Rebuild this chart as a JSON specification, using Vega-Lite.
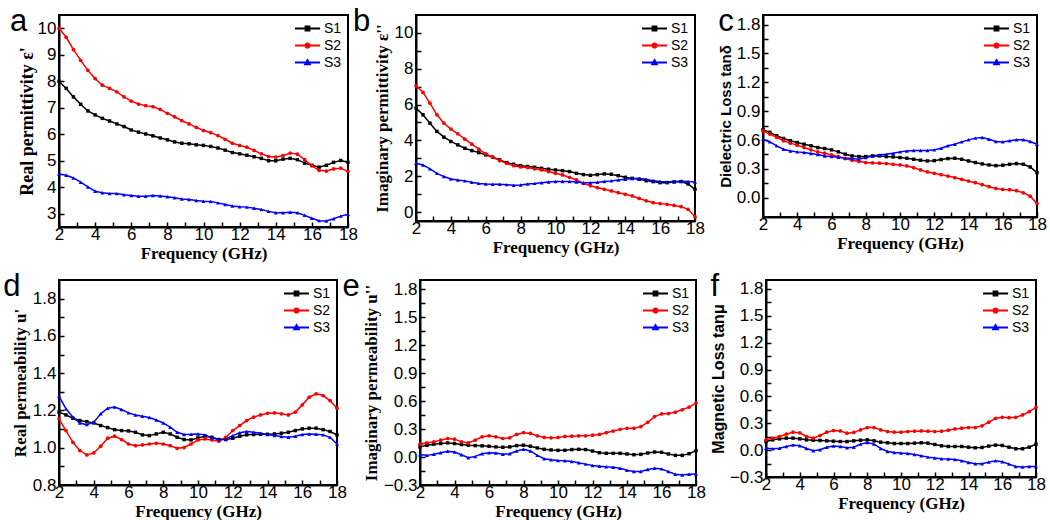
{
"$schema": "https://vega.github.io/schema/vega-lite/v6.json",
"background": "white",
"padding": {"left": 2, "top": 5, "right": 2, "bottom": 2},
"data": {"values": [
{"p":"a","s":"S1","f":2,"v":8.0},{"p":"a","s":"S1","f":2.4,"v":7.73},{"p":"a","s":"S1","f":2.8,"v":7.41},{"p":"a","s":"S1","f":3.2,"v":7.13},{"p":"a","s":"S1","f":3.6,"v":6.88},{"p":"a","s":"S1","f":4,"v":6.73},{"p":"a","s":"S1","f":4.4,"v":6.6},{"p":"a","s":"S1","f":4.8,"v":6.5},{"p":"a","s":"S1","f":5.2,"v":6.39},{"p":"a","s":"S1","f":5.6,"v":6.29},{"p":"a","s":"S1","f":6,"v":6.16},{"p":"a","s":"S1","f":6.4,"v":6.08},{"p":"a","s":"S1","f":6.8,"v":6.01},{"p":"a","s":"S1","f":7.2,"v":5.94},{"p":"a","s":"S1","f":7.6,"v":5.86},{"p":"a","s":"S1","f":8,"v":5.79},{"p":"a","s":"S1","f":8.4,"v":5.71},{"p":"a","s":"S1","f":8.8,"v":5.66},{"p":"a","s":"S1","f":9.2,"v":5.64},{"p":"a","s":"S1","f":9.6,"v":5.6},{"p":"a","s":"S1","f":10,"v":5.58},{"p":"a","s":"S1","f":10.4,"v":5.54},{"p":"a","s":"S1","f":10.8,"v":5.48},{"p":"a","s":"S1","f":11.2,"v":5.4},{"p":"a","s":"S1","f":11.6,"v":5.31},{"p":"a","s":"S1","f":12,"v":5.26},{"p":"a","s":"S1","f":12.4,"v":5.21},{"p":"a","s":"S1","f":12.8,"v":5.15},{"p":"a","s":"S1","f":13.2,"v":5.09},{"p":"a","s":"S1","f":13.6,"v":5.0},{"p":"a","s":"S1","f":14,"v":5.0},{"p":"a","s":"S1","f":14.4,"v":5.06},{"p":"a","s":"S1","f":14.8,"v":5.09},{"p":"a","s":"S1","f":15.2,"v":5.04},{"p":"a","s":"S1","f":15.6,"v":4.91},{"p":"a","s":"S1","f":16,"v":4.83},{"p":"a","s":"S1","f":16.4,"v":4.76},{"p":"a","s":"S1","f":16.8,"v":4.83},{"p":"a","s":"S1","f":17.2,"v":4.94},{"p":"a","s":"S1","f":17.6,"v":5.01},{"p":"a","s":"S1","f":18,"v":4.94},
{"p":"a","s":"S2","f":2,"v":10.0},{"p":"a","s":"S2","f":2.4,"v":9.66},{"p":"a","s":"S2","f":2.8,"v":9.19},{"p":"a","s":"S2","f":3.2,"v":8.79},{"p":"a","s":"S2","f":3.6,"v":8.41},{"p":"a","s":"S2","f":4,"v":8.1},{"p":"a","s":"S2","f":4.4,"v":7.85},{"p":"a","s":"S2","f":4.8,"v":7.73},{"p":"a","s":"S2","f":5.2,"v":7.6},{"p":"a","s":"S2","f":5.6,"v":7.41},{"p":"a","s":"S2","f":6,"v":7.25},{"p":"a","s":"S2","f":6.4,"v":7.14},{"p":"a","s":"S2","f":6.8,"v":7.08},{"p":"a","s":"S2","f":7.2,"v":7.04},{"p":"a","s":"S2","f":7.6,"v":6.94},{"p":"a","s":"S2","f":8,"v":6.79},{"p":"a","s":"S2","f":8.4,"v":6.66},{"p":"a","s":"S2","f":8.8,"v":6.51},{"p":"a","s":"S2","f":9.2,"v":6.39},{"p":"a","s":"S2","f":9.6,"v":6.26},{"p":"a","s":"S2","f":10,"v":6.14},{"p":"a","s":"S2","f":10.4,"v":6.06},{"p":"a","s":"S2","f":10.8,"v":5.95},{"p":"a","s":"S2","f":11.2,"v":5.81},{"p":"a","s":"S2","f":11.6,"v":5.66},{"p":"a","s":"S2","f":12,"v":5.58},{"p":"a","s":"S2","f":12.4,"v":5.51},{"p":"a","s":"S2","f":12.8,"v":5.39},{"p":"a","s":"S2","f":13.2,"v":5.26},{"p":"a","s":"S2","f":13.6,"v":5.16},{"p":"a","s":"S2","f":14,"v":5.14},{"p":"a","s":"S2","f":14.4,"v":5.19},{"p":"a","s":"S2","f":14.8,"v":5.29},{"p":"a","s":"S2","f":15.2,"v":5.25},{"p":"a","s":"S2","f":15.6,"v":5.04},{"p":"a","s":"S2","f":16,"v":4.81},{"p":"a","s":"S2","f":16.4,"v":4.64},{"p":"a","s":"S2","f":16.8,"v":4.61},{"p":"a","s":"S2","f":17.2,"v":4.69},{"p":"a","s":"S2","f":17.6,"v":4.72},{"p":"a","s":"S2","f":18,"v":4.6},
{"p":"a","s":"S3","f":2,"v":4.5},{"p":"a","s":"S3","f":2.4,"v":4.45},{"p":"a","s":"S3","f":2.8,"v":4.35},{"p":"a","s":"S3","f":3.2,"v":4.19},{"p":"a","s":"S3","f":3.6,"v":4.01},{"p":"a","s":"S3","f":4,"v":3.85},{"p":"a","s":"S3","f":4.4,"v":3.79},{"p":"a","s":"S3","f":4.8,"v":3.76},{"p":"a","s":"S3","f":5.2,"v":3.76},{"p":"a","s":"S3","f":5.6,"v":3.72},{"p":"a","s":"S3","f":6,"v":3.69},{"p":"a","s":"S3","f":6.4,"v":3.66},{"p":"a","s":"S3","f":6.8,"v":3.66},{"p":"a","s":"S3","f":7.2,"v":3.69},{"p":"a","s":"S3","f":7.6,"v":3.67},{"p":"a","s":"S3","f":8,"v":3.64},{"p":"a","s":"S3","f":8.4,"v":3.6},{"p":"a","s":"S3","f":8.8,"v":3.56},{"p":"a","s":"S3","f":9.2,"v":3.54},{"p":"a","s":"S3","f":9.6,"v":3.5},{"p":"a","s":"S3","f":10,"v":3.47},{"p":"a","s":"S3","f":10.4,"v":3.46},{"p":"a","s":"S3","f":10.8,"v":3.41},{"p":"a","s":"S3","f":11.2,"v":3.35},{"p":"a","s":"S3","f":11.6,"v":3.29},{"p":"a","s":"S3","f":12,"v":3.26},{"p":"a","s":"S3","f":12.4,"v":3.25},{"p":"a","s":"S3","f":12.8,"v":3.21},{"p":"a","s":"S3","f":13.2,"v":3.16},{"p":"a","s":"S3","f":13.6,"v":3.09},{"p":"a","s":"S3","f":14,"v":3.04},{"p":"a","s":"S3","f":14.4,"v":3.04},{"p":"a","s":"S3","f":14.8,"v":3.06},{"p":"a","s":"S3","f":15.2,"v":3.04},{"p":"a","s":"S3","f":15.6,"v":2.94},{"p":"a","s":"S3","f":16,"v":2.83},{"p":"a","s":"S3","f":16.4,"v":2.74},{"p":"a","s":"S3","f":16.8,"v":2.73},{"p":"a","s":"S3","f":17.2,"v":2.81},{"p":"a","s":"S3","f":17.6,"v":2.91},{"p":"a","s":"S3","f":18,"v":2.98},
{"p":"b","s":"S1","f":2,"v":5.8},{"p":"b","s":"S1","f":2.4,"v":5.43},{"p":"b","s":"S1","f":2.8,"v":4.96},{"p":"b","s":"S1","f":3.2,"v":4.5},{"p":"b","s":"S1","f":3.6,"v":4.18},{"p":"b","s":"S1","f":4,"v":3.94},{"p":"b","s":"S1","f":4.4,"v":3.75},{"p":"b","s":"S1","f":4.8,"v":3.56},{"p":"b","s":"S1","f":5.2,"v":3.43},{"p":"b","s":"S1","f":5.6,"v":3.32},{"p":"b","s":"S1","f":6,"v":3.19},{"p":"b","s":"S1","f":6.4,"v":3.06},{"p":"b","s":"S1","f":6.8,"v":2.91},{"p":"b","s":"S1","f":7.2,"v":2.76},{"p":"b","s":"S1","f":7.6,"v":2.67},{"p":"b","s":"S1","f":8,"v":2.59},{"p":"b","s":"S1","f":8.4,"v":2.54},{"p":"b","s":"S1","f":8.8,"v":2.5},{"p":"b","s":"S1","f":9.2,"v":2.44},{"p":"b","s":"S1","f":9.6,"v":2.39},{"p":"b","s":"S1","f":10,"v":2.35},{"p":"b","s":"S1","f":10.4,"v":2.31},{"p":"b","s":"S1","f":10.8,"v":2.26},{"p":"b","s":"S1","f":11.2,"v":2.16},{"p":"b","s":"S1","f":11.6,"v":2.09},{"p":"b","s":"S1","f":12,"v":2.05},{"p":"b","s":"S1","f":12.4,"v":2.09},{"p":"b","s":"S1","f":12.8,"v":2.13},{"p":"b","s":"S1","f":13.2,"v":2.11},{"p":"b","s":"S1","f":13.6,"v":2.03},{"p":"b","s":"S1","f":14,"v":1.94},{"p":"b","s":"S1","f":14.4,"v":1.88},{"p":"b","s":"S1","f":14.8,"v":1.83},{"p":"b","s":"S1","f":15.2,"v":1.75},{"p":"b","s":"S1","f":15.6,"v":1.7},{"p":"b","s":"S1","f":16,"v":1.64},{"p":"b","s":"S1","f":16.4,"v":1.64},{"p":"b","s":"S1","f":16.8,"v":1.68},{"p":"b","s":"S1","f":17.2,"v":1.7},{"p":"b","s":"S1","f":17.6,"v":1.57},{"p":"b","s":"S1","f":18,"v":1.27},
{"p":"b","s":"S2","f":2,"v":7.05},{"p":"b","s":"S2","f":2.4,"v":6.68},{"p":"b","s":"S2","f":2.8,"v":6.08},{"p":"b","s":"S2","f":3.2,"v":5.43},{"p":"b","s":"S2","f":3.6,"v":4.96},{"p":"b","s":"S2","f":4,"v":4.63},{"p":"b","s":"S2","f":4.4,"v":4.37},{"p":"b","s":"S2","f":4.8,"v":4.07},{"p":"b","s":"S2","f":5.2,"v":3.79},{"p":"b","s":"S2","f":5.6,"v":3.51},{"p":"b","s":"S2","f":6,"v":3.25},{"p":"b","s":"S2","f":6.4,"v":3.06},{"p":"b","s":"S2","f":6.8,"v":2.87},{"p":"b","s":"S2","f":7.2,"v":2.72},{"p":"b","s":"S2","f":7.6,"v":2.59},{"p":"b","s":"S2","f":8,"v":2.52},{"p":"b","s":"S2","f":8.4,"v":2.48},{"p":"b","s":"S2","f":8.8,"v":2.41},{"p":"b","s":"S2","f":9.2,"v":2.35},{"p":"b","s":"S2","f":9.6,"v":2.26},{"p":"b","s":"S2","f":10,"v":2.16},{"p":"b","s":"S2","f":10.4,"v":2.07},{"p":"b","s":"S2","f":10.8,"v":1.94},{"p":"b","s":"S2","f":11.2,"v":1.79},{"p":"b","s":"S2","f":11.6,"v":1.6},{"p":"b","s":"S2","f":12,"v":1.47},{"p":"b","s":"S2","f":12.4,"v":1.36},{"p":"b","s":"S2","f":12.8,"v":1.27},{"p":"b","s":"S2","f":13.2,"v":1.18},{"p":"b","s":"S2","f":13.6,"v":1.08},{"p":"b","s":"S2","f":14,"v":0.99},{"p":"b","s":"S2","f":14.4,"v":0.9},{"p":"b","s":"S2","f":14.8,"v":0.76},{"p":"b","s":"S2","f":15.2,"v":0.63},{"p":"b","s":"S2","f":15.6,"v":0.52},{"p":"b","s":"S2","f":16,"v":0.47},{"p":"b","s":"S2","f":16.4,"v":0.43},{"p":"b","s":"S2","f":16.8,"v":0.37},{"p":"b","s":"S2","f":17.2,"v":0.3},{"p":"b","s":"S2","f":17.6,"v":0.15},{"p":"b","s":"S2","f":18,"v":-0.26},
{"p":"b","s":"S3","f":2,"v":2.72},{"p":"b","s":"S3","f":2.4,"v":2.63},{"p":"b","s":"S3","f":2.8,"v":2.41},{"p":"b","s":"S3","f":3.2,"v":2.16},{"p":"b","s":"S3","f":3.6,"v":1.98},{"p":"b","s":"S3","f":4,"v":1.85},{"p":"b","s":"S3","f":4.4,"v":1.79},{"p":"b","s":"S3","f":4.8,"v":1.74},{"p":"b","s":"S3","f":5.2,"v":1.66},{"p":"b","s":"S3","f":5.6,"v":1.6},{"p":"b","s":"S3","f":6,"v":1.57},{"p":"b","s":"S3","f":6.4,"v":1.55},{"p":"b","s":"S3","f":6.8,"v":1.55},{"p":"b","s":"S3","f":7.2,"v":1.53},{"p":"b","s":"S3","f":7.6,"v":1.49},{"p":"b","s":"S3","f":8,"v":1.51},{"p":"b","s":"S3","f":8.4,"v":1.57},{"p":"b","s":"S3","f":8.8,"v":1.6},{"p":"b","s":"S3","f":9.2,"v":1.64},{"p":"b","s":"S3","f":9.6,"v":1.68},{"p":"b","s":"S3","f":10,"v":1.7},{"p":"b","s":"S3","f":10.4,"v":1.7},{"p":"b","s":"S3","f":10.8,"v":1.7},{"p":"b","s":"S3","f":11.2,"v":1.68},{"p":"b","s":"S3","f":11.6,"v":1.64},{"p":"b","s":"S3","f":12,"v":1.64},{"p":"b","s":"S3","f":12.4,"v":1.66},{"p":"b","s":"S3","f":12.8,"v":1.7},{"p":"b","s":"S3","f":13.2,"v":1.74},{"p":"b","s":"S3","f":13.6,"v":1.79},{"p":"b","s":"S3","f":14,"v":1.83},{"p":"b","s":"S3","f":14.4,"v":1.87},{"p":"b","s":"S3","f":14.8,"v":1.87},{"p":"b","s":"S3","f":15.2,"v":1.83},{"p":"b","s":"S3","f":15.6,"v":1.75},{"p":"b","s":"S3","f":16,"v":1.7},{"p":"b","s":"S3","f":16.4,"v":1.68},{"p":"b","s":"S3","f":16.8,"v":1.7},{"p":"b","s":"S3","f":17.2,"v":1.72},{"p":"b","s":"S3","f":17.6,"v":1.7},{"p":"b","s":"S3","f":18,"v":1.68},
{"p":"c","s":"S1","f":2,"v":0.707},{"p":"c","s":"S1","f":2.4,"v":0.68},{"p":"c","s":"S1","f":2.8,"v":0.644},{"p":"c","s":"S1","f":3.2,"v":0.616},{"p":"c","s":"S1","f":3.6,"v":0.592},{"p":"c","s":"S1","f":4,"v":0.574},{"p":"c","s":"S1","f":4.4,"v":0.557},{"p":"c","s":"S1","f":4.8,"v":0.54},{"p":"c","s":"S1","f":5.2,"v":0.522},{"p":"c","s":"S1","f":5.6,"v":0.512},{"p":"c","s":"S1","f":6,"v":0.498},{"p":"c","s":"S1","f":6.4,"v":0.477},{"p":"c","s":"S1","f":6.8,"v":0.453},{"p":"c","s":"S1","f":7.2,"v":0.435},{"p":"c","s":"S1","f":7.6,"v":0.428},{"p":"c","s":"S1","f":8,"v":0.428},{"p":"c","s":"S1","f":8.4,"v":0.435},{"p":"c","s":"S1","f":8.8,"v":0.435},{"p":"c","s":"S1","f":9.2,"v":0.428},{"p":"c","s":"S1","f":9.6,"v":0.425},{"p":"c","s":"S1","f":10,"v":0.418},{"p":"c","s":"S1","f":10.4,"v":0.411},{"p":"c","s":"S1","f":10.8,"v":0.4},{"p":"c","s":"S1","f":11.2,"v":0.39},{"p":"c","s":"S1","f":11.6,"v":0.383},{"p":"c","s":"S1","f":12,"v":0.386},{"p":"c","s":"S1","f":12.4,"v":0.397},{"p":"c","s":"S1","f":12.8,"v":0.407},{"p":"c","s":"S1","f":13.2,"v":0.411},{"p":"c","s":"S1","f":13.6,"v":0.4},{"p":"c","s":"S1","f":14,"v":0.383},{"p":"c","s":"S1","f":14.4,"v":0.366},{"p":"c","s":"S1","f":14.8,"v":0.352},{"p":"c","s":"S1","f":15.2,"v":0.341},{"p":"c","s":"S1","f":15.6,"v":0.334},{"p":"c","s":"S1","f":16,"v":0.338},{"p":"c","s":"S1","f":16.4,"v":0.348},{"p":"c","s":"S1","f":16.8,"v":0.355},{"p":"c","s":"S1","f":17.2,"v":0.348},{"p":"c","s":"S1","f":17.6,"v":0.32},{"p":"c","s":"S1","f":18,"v":0.261},
{"p":"c","s":"S2","f":2,"v":0.696},{"p":"c","s":"S2","f":2.4,"v":0.662},{"p":"c","s":"S2","f":2.8,"v":0.627},{"p":"c","s":"S2","f":3.2,"v":0.592},{"p":"c","s":"S2","f":3.6,"v":0.568},{"p":"c","s":"S2","f":4,"v":0.547},{"p":"c","s":"S2","f":4.4,"v":0.522},{"p":"c","s":"S2","f":4.8,"v":0.498},{"p":"c","s":"S2","f":5.2,"v":0.477},{"p":"c","s":"S2","f":5.6,"v":0.463},{"p":"c","s":"S2","f":6,"v":0.446},{"p":"c","s":"S2","f":6.4,"v":0.428},{"p":"c","s":"S2","f":6.8,"v":0.407},{"p":"c","s":"S2","f":7.2,"v":0.39},{"p":"c","s":"S2","f":7.6,"v":0.376},{"p":"c","s":"S2","f":8,"v":0.366},{"p":"c","s":"S2","f":8.4,"v":0.362},{"p":"c","s":"S2","f":8.8,"v":0.359},{"p":"c","s":"S2","f":9.2,"v":0.355},{"p":"c","s":"S2","f":9.6,"v":0.348},{"p":"c","s":"S2","f":10,"v":0.341},{"p":"c","s":"S2","f":10.4,"v":0.331},{"p":"c","s":"S2","f":10.8,"v":0.313},{"p":"c","s":"S2","f":11.2,"v":0.289},{"p":"c","s":"S2","f":11.6,"v":0.268},{"p":"c","s":"S2","f":12,"v":0.254},{"p":"c","s":"S2","f":12.4,"v":0.24},{"p":"c","s":"S2","f":12.8,"v":0.226},{"p":"c","s":"S2","f":13.2,"v":0.209},{"p":"c","s":"S2","f":13.6,"v":0.192},{"p":"c","s":"S2","f":14,"v":0.174},{"p":"c","s":"S2","f":14.4,"v":0.157},{"p":"c","s":"S2","f":14.8,"v":0.136},{"p":"c","s":"S2","f":15.2,"v":0.115},{"p":"c","s":"S2","f":15.6,"v":0.097},{"p":"c","s":"S2","f":16,"v":0.087},{"p":"c","s":"S2","f":16.4,"v":0.084},{"p":"c","s":"S2","f":16.8,"v":0.073},{"p":"c","s":"S2","f":17.2,"v":0.052},{"p":"c","s":"S2","f":17.6,"v":0.017},{"p":"c","s":"S2","f":18,"v":-0.059},
{"p":"c","s":"S3","f":2,"v":0.609},{"p":"c","s":"S3","f":2.4,"v":0.581},{"p":"c","s":"S3","f":2.8,"v":0.54},{"p":"c","s":"S3","f":3.2,"v":0.505},{"p":"c","s":"S3","f":3.6,"v":0.487},{"p":"c","s":"S3","f":4,"v":0.477},{"p":"c","s":"S3","f":4.4,"v":0.47},{"p":"c","s":"S3","f":4.8,"v":0.46},{"p":"c","s":"S3","f":5.2,"v":0.449},{"p":"c","s":"S3","f":5.6,"v":0.435},{"p":"c","s":"S3","f":6,"v":0.428},{"p":"c","s":"S3","f":6.4,"v":0.421},{"p":"c","s":"S3","f":6.8,"v":0.414},{"p":"c","s":"S3","f":7.2,"v":0.407},{"p":"c","s":"S3","f":7.6,"v":0.4},{"p":"c","s":"S3","f":8,"v":0.418},{"p":"c","s":"S3","f":8.4,"v":0.435},{"p":"c","s":"S3","f":8.8,"v":0.446},{"p":"c","s":"S3","f":9.2,"v":0.453},{"p":"c","s":"S3","f":9.6,"v":0.463},{"p":"c","s":"S3","f":10,"v":0.477},{"p":"c","s":"S3","f":10.4,"v":0.487},{"p":"c","s":"S3","f":10.8,"v":0.491},{"p":"c","s":"S3","f":11.2,"v":0.491},{"p":"c","s":"S3","f":11.6,"v":0.491},{"p":"c","s":"S3","f":12,"v":0.498},{"p":"c","s":"S3","f":12.4,"v":0.515},{"p":"c","s":"S3","f":12.8,"v":0.54},{"p":"c","s":"S3","f":13.2,"v":0.557},{"p":"c","s":"S3","f":13.6,"v":0.581},{"p":"c","s":"S3","f":14,"v":0.602},{"p":"c","s":"S3","f":14.4,"v":0.62},{"p":"c","s":"S3","f":14.8,"v":0.627},{"p":"c","s":"S3","f":15.2,"v":0.609},{"p":"c","s":"S3","f":15.6,"v":0.585},{"p":"c","s":"S3","f":16,"v":0.581},{"p":"c","s":"S3","f":16.4,"v":0.592},{"p":"c","s":"S3","f":16.8,"v":0.602},{"p":"c","s":"S3","f":17.2,"v":0.602},{"p":"c","s":"S3","f":17.6,"v":0.585},{"p":"c","s":"S3","f":18,"v":0.557},
{"p":"d","s":"S1","f":2,"v":1.191},{"p":"d","s":"S1","f":2.4,"v":1.176},{"p":"d","s":"S1","f":2.8,"v":1.158},{"p":"d","s":"S1","f":3.2,"v":1.146},{"p":"d","s":"S1","f":3.6,"v":1.14},{"p":"d","s":"S1","f":4,"v":1.133},{"p":"d","s":"S1","f":4.4,"v":1.119},{"p":"d","s":"S1","f":4.8,"v":1.108},{"p":"d","s":"S1","f":5.2,"v":1.097},{"p":"d","s":"S1","f":5.6,"v":1.092},{"p":"d","s":"S1","f":6,"v":1.09},{"p":"d","s":"S1","f":6.4,"v":1.083},{"p":"d","s":"S1","f":6.8,"v":1.069},{"p":"d","s":"S1","f":7.2,"v":1.065},{"p":"d","s":"S1","f":7.6,"v":1.074},{"p":"d","s":"S1","f":8,"v":1.083},{"p":"d","s":"S1","f":8.4,"v":1.074},{"p":"d","s":"S1","f":8.8,"v":1.056},{"p":"d","s":"S1","f":9.2,"v":1.044},{"p":"d","s":"S1","f":9.6,"v":1.042},{"p":"d","s":"S1","f":10,"v":1.053},{"p":"d","s":"S1","f":10.4,"v":1.062},{"p":"d","s":"S1","f":10.8,"v":1.056},{"p":"d","s":"S1","f":11.2,"v":1.044},{"p":"d","s":"S1","f":11.6,"v":1.044},{"p":"d","s":"S1","f":12,"v":1.051},{"p":"d","s":"S1","f":12.4,"v":1.062},{"p":"d","s":"S1","f":12.8,"v":1.069},{"p":"d","s":"S1","f":13.2,"v":1.071},{"p":"d","s":"S1","f":13.6,"v":1.072},{"p":"d","s":"S1","f":14,"v":1.072},{"p":"d","s":"S1","f":14.4,"v":1.074},{"p":"d","s":"S1","f":14.8,"v":1.078},{"p":"d","s":"S1","f":15.2,"v":1.083},{"p":"d","s":"S1","f":15.6,"v":1.092},{"p":"d","s":"S1","f":16,"v":1.101},{"p":"d","s":"S1","f":16.4,"v":1.105},{"p":"d","s":"S1","f":16.8,"v":1.105},{"p":"d","s":"S1","f":17.2,"v":1.097},{"p":"d","s":"S1","f":17.6,"v":1.087},{"p":"d","s":"S1","f":18,"v":1.069},
{"p":"d","s":"S2","f":2,"v":1.155},{"p":"d","s":"S2","f":2.4,"v":1.092},{"p":"d","s":"S2","f":2.8,"v":1.029},{"p":"d","s":"S2","f":3.2,"v":0.985},{"p":"d","s":"S2","f":3.6,"v":0.961},{"p":"d","s":"S2","f":4,"v":0.972},{"p":"d","s":"S2","f":4.4,"v":1.008},{"p":"d","s":"S2","f":4.8,"v":1.051},{"p":"d","s":"S2","f":5.2,"v":1.062},{"p":"d","s":"S2","f":5.6,"v":1.044},{"p":"d","s":"S2","f":6,"v":1.02},{"p":"d","s":"S2","f":6.4,"v":1.011},{"p":"d","s":"S2","f":6.8,"v":1.015},{"p":"d","s":"S2","f":7.2,"v":1.02},{"p":"d","s":"S2","f":7.6,"v":1.024},{"p":"d","s":"S2","f":8,"v":1.02},{"p":"d","s":"S2","f":8.4,"v":1.011},{"p":"d","s":"S2","f":8.8,"v":0.997},{"p":"d","s":"S2","f":9.2,"v":1.001},{"p":"d","s":"S2","f":9.6,"v":1.02},{"p":"d","s":"S2","f":10,"v":1.042},{"p":"d","s":"S2","f":10.4,"v":1.047},{"p":"d","s":"S2","f":10.8,"v":1.042},{"p":"d","s":"S2","f":11.2,"v":1.035},{"p":"d","s":"S2","f":11.6,"v":1.056},{"p":"d","s":"S2","f":12,"v":1.092},{"p":"d","s":"S2","f":12.4,"v":1.119},{"p":"d","s":"S2","f":12.8,"v":1.146},{"p":"d","s":"S2","f":13.2,"v":1.164},{"p":"d","s":"S2","f":13.6,"v":1.176},{"p":"d","s":"S2","f":14,"v":1.185},{"p":"d","s":"S2","f":14.4,"v":1.187},{"p":"d","s":"S2","f":14.8,"v":1.182},{"p":"d","s":"S2","f":15.2,"v":1.176},{"p":"d","s":"S2","f":15.6,"v":1.191},{"p":"d","s":"S2","f":16,"v":1.23},{"p":"d","s":"S2","f":16.4,"v":1.271},{"p":"d","s":"S2","f":16.8,"v":1.289},{"p":"d","s":"S2","f":17.2,"v":1.28},{"p":"d","s":"S2","f":17.6,"v":1.253},{"p":"d","s":"S2","f":18,"v":1.212},
{"p":"d","s":"S3","f":2,"v":1.277},{"p":"d","s":"S3","f":2.4,"v":1.209},{"p":"d","s":"S3","f":2.8,"v":1.164},{"p":"d","s":"S3","f":3.2,"v":1.133},{"p":"d","s":"S3","f":3.6,"v":1.124},{"p":"d","s":"S3","f":4,"v":1.137},{"p":"d","s":"S3","f":4.4,"v":1.182},{"p":"d","s":"S3","f":4.8,"v":1.212},{"p":"d","s":"S3","f":5.2,"v":1.218},{"p":"d","s":"S3","f":5.6,"v":1.205},{"p":"d","s":"S3","f":6,"v":1.187},{"p":"d","s":"S3","f":6.4,"v":1.176},{"p":"d","s":"S3","f":6.8,"v":1.169},{"p":"d","s":"S3","f":7.2,"v":1.162},{"p":"d","s":"S3","f":7.6,"v":1.149},{"p":"d","s":"S3","f":8,"v":1.133},{"p":"d","s":"S3","f":8.4,"v":1.11},{"p":"d","s":"S3","f":8.8,"v":1.083},{"p":"d","s":"S3","f":9.2,"v":1.071},{"p":"d","s":"S3","f":9.6,"v":1.072},{"p":"d","s":"S3","f":10,"v":1.074},{"p":"d","s":"S3","f":10.4,"v":1.069},{"p":"d","s":"S3","f":10.8,"v":1.053},{"p":"d","s":"S3","f":11.2,"v":1.044},{"p":"d","s":"S3","f":11.6,"v":1.047},{"p":"d","s":"S3","f":12,"v":1.065},{"p":"d","s":"S3","f":12.4,"v":1.08},{"p":"d","s":"S3","f":12.8,"v":1.087},{"p":"d","s":"S3","f":13.2,"v":1.083},{"p":"d","s":"S3","f":13.6,"v":1.078},{"p":"d","s":"S3","f":14,"v":1.071},{"p":"d","s":"S3","f":14.4,"v":1.065},{"p":"d","s":"S3","f":14.8,"v":1.06},{"p":"d","s":"S3","f":15.2,"v":1.056},{"p":"d","s":"S3","f":15.6,"v":1.062},{"p":"d","s":"S3","f":16,"v":1.071},{"p":"d","s":"S3","f":16.4,"v":1.074},{"p":"d","s":"S3","f":16.8,"v":1.072},{"p":"d","s":"S3","f":17.2,"v":1.069},{"p":"d","s":"S3","f":17.6,"v":1.056},{"p":"d","s":"S3","f":18,"v":1.02},
{"p":"e","s":"S1","f":2,"v":0.109},{"p":"e","s":"S1","f":2.4,"v":0.127},{"p":"e","s":"S1","f":2.8,"v":0.138},{"p":"e","s":"S1","f":3.2,"v":0.145},{"p":"e","s":"S1","f":3.6,"v":0.152},{"p":"e","s":"S1","f":4,"v":0.145},{"p":"e","s":"S1","f":4.4,"v":0.134},{"p":"e","s":"S1","f":4.8,"v":0.127},{"p":"e","s":"S1","f":5.2,"v":0.123},{"p":"e","s":"S1","f":5.6,"v":0.12},{"p":"e","s":"S1","f":6,"v":0.116},{"p":"e","s":"S1","f":6.4,"v":0.109},{"p":"e","s":"S1","f":6.8,"v":0.105},{"p":"e","s":"S1","f":7.2,"v":0.109},{"p":"e","s":"S1","f":7.6,"v":0.123},{"p":"e","s":"S1","f":8,"v":0.127},{"p":"e","s":"S1","f":8.4,"v":0.116},{"p":"e","s":"S1","f":8.8,"v":0.098},{"p":"e","s":"S1","f":9.2,"v":0.083},{"p":"e","s":"S1","f":9.6,"v":0.076},{"p":"e","s":"S1","f":10,"v":0.072},{"p":"e","s":"S1","f":10.4,"v":0.072},{"p":"e","s":"S1","f":10.8,"v":0.08},{"p":"e","s":"S1","f":11.2,"v":0.083},{"p":"e","s":"S1","f":11.6,"v":0.08},{"p":"e","s":"S1","f":12,"v":0.065},{"p":"e","s":"S1","f":12.4,"v":0.047},{"p":"e","s":"S1","f":12.8,"v":0.04},{"p":"e","s":"S1","f":13.2,"v":0.04},{"p":"e","s":"S1","f":13.6,"v":0.04},{"p":"e","s":"S1","f":14,"v":0.033},{"p":"e","s":"S1","f":14.4,"v":0.025},{"p":"e","s":"S1","f":14.8,"v":0.029},{"p":"e","s":"S1","f":15.2,"v":0.043},{"p":"e","s":"S1","f":15.6,"v":0.054},{"p":"e","s":"S1","f":16,"v":0.051},{"p":"e","s":"S1","f":16.4,"v":0.033},{"p":"e","s":"S1","f":16.8,"v":0.018},{"p":"e","s":"S1","f":17.2,"v":0.018},{"p":"e","s":"S1","f":17.6,"v":0.036},{"p":"e","s":"S1","f":18,"v":0.069},
{"p":"e","s":"S2","f":2,"v":0.138},{"p":"e","s":"S2","f":2.4,"v":0.152},{"p":"e","s":"S2","f":2.8,"v":0.163},{"p":"e","s":"S2","f":3.2,"v":0.181},{"p":"e","s":"S2","f":3.6,"v":0.199},{"p":"e","s":"S2","f":4,"v":0.192},{"p":"e","s":"S2","f":4.4,"v":0.163},{"p":"e","s":"S2","f":4.8,"v":0.152},{"p":"e","s":"S2","f":5.2,"v":0.181},{"p":"e","s":"S2","f":5.6,"v":0.217},{"p":"e","s":"S2","f":6,"v":0.228},{"p":"e","s":"S2","f":6.4,"v":0.217},{"p":"e","s":"S2","f":6.8,"v":0.199},{"p":"e","s":"S2","f":7.2,"v":0.206},{"p":"e","s":"S2","f":7.6,"v":0.243},{"p":"e","s":"S2","f":8,"v":0.261},{"p":"e","s":"S2","f":8.4,"v":0.253},{"p":"e","s":"S2","f":8.8,"v":0.228},{"p":"e","s":"S2","f":9.2,"v":0.21},{"p":"e","s":"S2","f":9.6,"v":0.206},{"p":"e","s":"S2","f":10,"v":0.21},{"p":"e","s":"S2","f":10.4,"v":0.221},{"p":"e","s":"S2","f":10.8,"v":0.224},{"p":"e","s":"S2","f":11.2,"v":0.228},{"p":"e","s":"S2","f":11.6,"v":0.228},{"p":"e","s":"S2","f":12,"v":0.235},{"p":"e","s":"S2","f":12.4,"v":0.243},{"p":"e","s":"S2","f":12.8,"v":0.261},{"p":"e","s":"S2","f":13.2,"v":0.279},{"p":"e","s":"S2","f":13.6,"v":0.297},{"p":"e","s":"S2","f":14,"v":0.308},{"p":"e","s":"S2","f":14.4,"v":0.308},{"p":"e","s":"S2","f":14.8,"v":0.326},{"p":"e","s":"S2","f":15.2,"v":0.373},{"p":"e","s":"S2","f":15.6,"v":0.434},{"p":"e","s":"S2","f":16,"v":0.463},{"p":"e","s":"S2","f":16.4,"v":0.467},{"p":"e","s":"S2","f":16.8,"v":0.482},{"p":"e","s":"S2","f":17.2,"v":0.507},{"p":"e","s":"S2","f":17.6,"v":0.536},{"p":"e","s":"S2","f":18,"v":0.579},
{"p":"e","s":"S3","f":2,"v":0.025},{"p":"e","s":"S3","f":2.4,"v":0.018},{"p":"e","s":"S3","f":2.8,"v":0.029},{"p":"e","s":"S3","f":3.2,"v":0.047},{"p":"e","s":"S3","f":3.6,"v":0.062},{"p":"e","s":"S3","f":4,"v":0.054},{"p":"e","s":"S3","f":4.4,"v":0.025},{"p":"e","s":"S3","f":4.8,"v":-0.007},{"p":"e","s":"S3","f":5.2,"v":0.007},{"p":"e","s":"S3","f":5.6,"v":0.036},{"p":"e","s":"S3","f":6,"v":0.047},{"p":"e","s":"S3","f":6.4,"v":0.043},{"p":"e","s":"S3","f":6.8,"v":0.029},{"p":"e","s":"S3","f":7.2,"v":0.036},{"p":"e","s":"S3","f":7.6,"v":0.065},{"p":"e","s":"S3","f":8,"v":0.083},{"p":"e","s":"S3","f":8.4,"v":0.065},{"p":"e","s":"S3","f":8.8,"v":0.018},{"p":"e","s":"S3","f":9.2,"v":-0.018},{"p":"e","s":"S3","f":9.6,"v":-0.029},{"p":"e","s":"S3","f":10,"v":-0.036},{"p":"e","s":"S3","f":10.4,"v":-0.04},{"p":"e","s":"S3","f":10.8,"v":-0.047},{"p":"e","s":"S3","f":11.2,"v":-0.062},{"p":"e","s":"S3","f":11.6,"v":-0.076},{"p":"e","s":"S3","f":12,"v":-0.091},{"p":"e","s":"S3","f":12.4,"v":-0.098},{"p":"e","s":"S3","f":12.8,"v":-0.105},{"p":"e","s":"S3","f":13.2,"v":-0.109},{"p":"e","s":"S3","f":13.6,"v":-0.12},{"p":"e","s":"S3","f":14,"v":-0.141},{"p":"e","s":"S3","f":14.4,"v":-0.156},{"p":"e","s":"S3","f":14.8,"v":-0.156},{"p":"e","s":"S3","f":15.2,"v":-0.134},{"p":"e","s":"S3","f":15.6,"v":-0.12},{"p":"e","s":"S3","f":16,"v":-0.127},{"p":"e","s":"S3","f":16.4,"v":-0.156},{"p":"e","s":"S3","f":16.8,"v":-0.185},{"p":"e","s":"S3","f":17.2,"v":-0.192},{"p":"e","s":"S3","f":17.6,"v":-0.185},{"p":"e","s":"S3","f":18,"v":-0.181},
{"p":"f","s":"S1","f":2,"v":0.096},{"p":"f","s":"S1","f":2.4,"v":0.115},{"p":"f","s":"S1","f":2.8,"v":0.126},{"p":"f","s":"S1","f":3.2,"v":0.134},{"p":"f","s":"S1","f":3.6,"v":0.134},{"p":"f","s":"S1","f":4,"v":0.126},{"p":"f","s":"S1","f":4.4,"v":0.115},{"p":"f","s":"S1","f":4.8,"v":0.111},{"p":"f","s":"S1","f":5.2,"v":0.108},{"p":"f","s":"S1","f":5.6,"v":0.104},{"p":"f","s":"S1","f":6,"v":0.1},{"p":"f","s":"S1","f":6.4,"v":0.096},{"p":"f","s":"S1","f":6.8,"v":0.096},{"p":"f","s":"S1","f":7.2,"v":0.104},{"p":"f","s":"S1","f":7.6,"v":0.111},{"p":"f","s":"S1","f":8,"v":0.115},{"p":"f","s":"S1","f":8.4,"v":0.104},{"p":"f","s":"S1","f":8.8,"v":0.089},{"p":"f","s":"S1","f":9.2,"v":0.082},{"p":"f","s":"S1","f":9.6,"v":0.074},{"p":"f","s":"S1","f":10,"v":0.074},{"p":"f","s":"S1","f":10.4,"v":0.074},{"p":"f","s":"S1","f":10.8,"v":0.078},{"p":"f","s":"S1","f":11.2,"v":0.082},{"p":"f","s":"S1","f":11.6,"v":0.078},{"p":"f","s":"S1","f":12,"v":0.063},{"p":"f","s":"S1","f":12.4,"v":0.048},{"p":"f","s":"S1","f":12.8,"v":0.041},{"p":"f","s":"S1","f":13.2,"v":0.041},{"p":"f","s":"S1","f":13.6,"v":0.041},{"p":"f","s":"S1","f":14,"v":0.033},{"p":"f","s":"S1","f":14.4,"v":0.026},{"p":"f","s":"S1","f":14.8,"v":0.03},{"p":"f","s":"S1","f":15.2,"v":0.045},{"p":"f","s":"S1","f":15.6,"v":0.056},{"p":"f","s":"S1","f":16,"v":0.052},{"p":"f","s":"S1","f":16.4,"v":0.033},{"p":"f","s":"S1","f":16.8,"v":0.015},{"p":"f","s":"S1","f":17.2,"v":0.015},{"p":"f","s":"S1","f":17.6,"v":0.033},{"p":"f","s":"S1","f":18,"v":0.067},
{"p":"f","s":"S2","f":2,"v":0.115},{"p":"f","s":"S2","f":2.4,"v":0.134},{"p":"f","s":"S2","f":2.8,"v":0.152},{"p":"f","s":"S2","f":3.2,"v":0.178},{"p":"f","s":"S2","f":3.6,"v":0.2},{"p":"f","s":"S2","f":4,"v":0.193},{"p":"f","s":"S2","f":4.4,"v":0.152},{"p":"f","s":"S2","f":4.8,"v":0.134},{"p":"f","s":"S2","f":5.2,"v":0.163},{"p":"f","s":"S2","f":5.6,"v":0.2},{"p":"f","s":"S2","f":6,"v":0.219},{"p":"f","s":"S2","f":6.4,"v":0.215},{"p":"f","s":"S2","f":6.8,"v":0.189},{"p":"f","s":"S2","f":7.2,"v":0.197},{"p":"f","s":"S2","f":7.6,"v":0.226},{"p":"f","s":"S2","f":8,"v":0.252},{"p":"f","s":"S2","f":8.4,"v":0.252},{"p":"f","s":"S2","f":8.8,"v":0.226},{"p":"f","s":"S2","f":9.2,"v":0.208},{"p":"f","s":"S2","f":9.6,"v":0.2},{"p":"f","s":"S2","f":10,"v":0.2},{"p":"f","s":"S2","f":10.4,"v":0.208},{"p":"f","s":"S2","f":10.8,"v":0.211},{"p":"f","s":"S2","f":11.2,"v":0.215},{"p":"f","s":"S2","f":11.6,"v":0.211},{"p":"f","s":"S2","f":12,"v":0.208},{"p":"f","s":"S2","f":12.4,"v":0.211},{"p":"f","s":"S2","f":12.8,"v":0.223},{"p":"f","s":"S2","f":13.2,"v":0.237},{"p":"f","s":"S2","f":13.6,"v":0.245},{"p":"f","s":"S2","f":14,"v":0.252},{"p":"f","s":"S2","f":14.4,"v":0.252},{"p":"f","s":"S2","f":14.8,"v":0.271},{"p":"f","s":"S2","f":15.2,"v":0.312},{"p":"f","s":"S2","f":15.6,"v":0.356},{"p":"f","s":"S2","f":16,"v":0.367},{"p":"f","s":"S2","f":16.4,"v":0.363},{"p":"f","s":"S2","f":16.8,"v":0.367},{"p":"f","s":"S2","f":17.2,"v":0.393},{"p":"f","s":"S2","f":17.6,"v":0.43},{"p":"f","s":"S2","f":18,"v":0.478},
{"p":"f","s":"S3","f":2,"v":0.022},{"p":"f","s":"S3","f":2.4,"v":0.015},{"p":"f","s":"S3","f":2.8,"v":0.022},{"p":"f","s":"S3","f":3.2,"v":0.041},{"p":"f","s":"S3","f":3.6,"v":0.056},{"p":"f","s":"S3","f":4,"v":0.048},{"p":"f","s":"S3","f":4.4,"v":0.019},{"p":"f","s":"S3","f":4.8,"v":-0.007},{"p":"f","s":"S3","f":5.2,"v":0.004},{"p":"f","s":"S3","f":5.6,"v":0.033},{"p":"f","s":"S3","f":6,"v":0.045},{"p":"f","s":"S3","f":6.4,"v":0.041},{"p":"f","s":"S3","f":6.8,"v":0.026},{"p":"f","s":"S3","f":7.2,"v":0.033},{"p":"f","s":"S3","f":7.6,"v":0.067},{"p":"f","s":"S3","f":8,"v":0.085},{"p":"f","s":"S3","f":8.4,"v":0.067},{"p":"f","s":"S3","f":8.8,"v":0.019},{"p":"f","s":"S3","f":9.2,"v":-0.015},{"p":"f","s":"S3","f":9.6,"v":-0.026},{"p":"f","s":"S3","f":10,"v":-0.033},{"p":"f","s":"S3","f":10.4,"v":-0.037},{"p":"f","s":"S3","f":10.8,"v":-0.048},{"p":"f","s":"S3","f":11.2,"v":-0.063},{"p":"f","s":"S3","f":11.6,"v":-0.078},{"p":"f","s":"S3","f":12,"v":-0.089},{"p":"f","s":"S3","f":12.4,"v":-0.097},{"p":"f","s":"S3","f":12.8,"v":-0.1},{"p":"f","s":"S3","f":13.2,"v":-0.104},{"p":"f","s":"S3","f":13.6,"v":-0.119},{"p":"f","s":"S3","f":14,"v":-0.137},{"p":"f","s":"S3","f":14.4,"v":-0.152},{"p":"f","s":"S3","f":14.8,"v":-0.152},{"p":"f","s":"S3","f":15.2,"v":-0.134},{"p":"f","s":"S3","f":15.6,"v":-0.119},{"p":"f","s":"S3","f":16,"v":-0.13},{"p":"f","s":"S3","f":16.4,"v":-0.156},{"p":"f","s":"S3","f":16.8,"v":-0.182},{"p":"f","s":"S3","f":17.2,"v":-0.189},{"p":"f","s":"S3","f":17.6,"v":-0.182},{"p":"f","s":"S3","f":18,"v":-0.182}
]},
"resolve": {"scale": {"color": "independent"}, "legend": {"color": "independent"}},
"spacing": 7,
"vconcat": [
{"hconcat": [
{"title": {"text": "a", "dx": -8}, "width": 289, "height": 212,
 "transform": [{"filter": "datum.p == 'a'"}],
 "encoding": {
  "x": {"field": "f", "type": "quantitative", "scale": {"domain": [2, 18], "nice": false, "zero": false}, "axis": {"title": "Frequency (GHz)", "values": [2,3,4,5,6,7,8,9,10,11,12,13,14,15,16,17,18], "labelExpr": "datum.value % 2 == 0 ? datum.label : ''"}},
  "y": {"field": "v", "type": "quantitative", "scale": {"domain": [2.5, 10.5], "nice": false, "zero": false}, "axis": {"title": "Real permittivity ε'", "values": [3,4,5,6,7,8,9,10], "titleFont": "Liberation Serif", "titleFontSize": 18, "titlePadding": 1}},
  "color": {"field": "s", "type": "nominal", "scale": {"domain": ["S1","S2","S3"], "range": ["#000000","#ff0000","#0000ff"]}, "legend": {"title": null, "encode": {"symbols": {"update": {"shape": {"signal": "datum.value == 'S1' ? 'M-2,0H2M-0.32,-0.32H0.32V0.32H-0.32Z' : datum.value == 'S2' ? 'M-2,0H2M-0.34,0A0.34,0.34 0 1,0 0.34,0A0.34,0.34 0 1,0 -0.34,0Z' : 'M-2,0H2M0,-0.4L0.38,0.28H-0.38Z'"}, "fill": {"signal": "datum.value == 'S1' ? '#000000' : datum.value == 'S2' ? '#ff0000' : '#0000ff'"}, "opacity": {"value": 1}}}}}}
 },
 "layer": [
  {"mark": {"type": "line", "strokeWidth": 1.5}, "encoding": {}},
  {"transform": [{"filter": "datum.s == 'S1'"}], "mark": {"type": "point", "shape": "square", "filled": true, "size": 12, "opacity": 1}, "encoding": {}},
  {"transform": [{"filter": "datum.s == 'S2'"}], "mark": {"type": "point", "shape": "circle", "filled": true, "size": 14, "opacity": 1}, "encoding": {}},
  {"transform": [{"filter": "datum.s == 'S3'"}], "mark": {"type": "point", "shape": "triangle-up", "filled": true, "size": 16, "opacity": 1}, "encoding": {}}
 ]},
{"hconcat": [
{"title": {"text": "b", "dx": -20}, "width": 279, "height": 206,
 "transform": [{"filter": "datum.p == 'b'"}],
 "encoding": {
  "x": {"field": "f", "type": "quantitative", "scale": {"domain": [2, 18], "nice": false, "zero": false}, "axis": {"title": "Frequency (GHz)", "values": [2,3,4,5,6,7,8,9,10,11,12,13,14,15,16,17,18], "labelExpr": "datum.value % 2 == 0 ? datum.label : ''"}},
  "y": {"field": "v", "type": "quantitative", "scale": {"domain": [-0.5, 11], "nice": false, "zero": false}, "axis": {"title": "Imaginary permittivity ε''", "values": [0,1,2,3,4,5,6,7,8,9,10], "labelExpr": "datum.value % 2 == 0 ? datum.label : ''", "titleFont": "Liberation Serif", "titleFontSize": 17}},
  "color": {"field": "s", "type": "nominal", "scale": {"domain": ["S1","S2","S3"], "range": ["#000000","#ff0000","#0000ff"]}, "legend": {"title": null, "encode": {"symbols": {"update": {"shape": {"signal": "datum.value == 'S1' ? 'M-2,0H2M-0.32,-0.32H0.32V0.32H-0.32Z' : datum.value == 'S2' ? 'M-2,0H2M-0.34,0A0.34,0.34 0 1,0 0.34,0A0.34,0.34 0 1,0 -0.34,0Z' : 'M-2,0H2M0,-0.4L0.38,0.28H-0.38Z'"}, "fill": {"signal": "datum.value == 'S1' ? '#000000' : datum.value == 'S2' ? '#ff0000' : '#0000ff'"}, "opacity": {"value": 1}}}}}}
 },
 "layer": [
  {"mark": {"type": "line", "strokeWidth": 1.5}, "encoding": {}},
  {"transform": [{"filter": "datum.s == 'S1'"}], "mark": {"type": "point", "shape": "square", "filled": true, "size": 12, "opacity": 1}, "encoding": {}},
  {"transform": [{"filter": "datum.s == 'S2'"}], "mark": {"type": "point", "shape": "circle", "filled": true, "size": 14, "opacity": 1}, "encoding": {}},
  {"transform": [{"filter": "datum.s == 'S3'"}], "mark": {"type": "point", "shape": "triangle-up", "filled": true, "size": 16, "opacity": 1}, "encoding": {}}
 ]},
{"title": {"text": "c", "dx": 0}, "width": 274, "height": 202,
 "transform": [{"filter": "datum.p == 'c'"}],
 "encoding": {
  "x": {"field": "f", "type": "quantitative", "scale": {"domain": [2, 18], "nice": false, "zero": false}, "axis": {"title": "Frequency (GHz)", "values": [2,3,4,5,6,7,8,9,10,11,12,13,14,15,16,17,18], "labelExpr": "datum.value % 2 == 0 ? datum.label : ''"}},
  "y": {"field": "v", "type": "quantitative", "scale": {"domain": [-0.2, 1.9], "nice": false, "zero": false}, "axis": {"title": "Dielectric Loss tanδ", "values": [0,0.15,0.3,0.45,0.6,0.75,0.9,1.05,1.2,1.35,1.5,1.65,1.8], "labelExpr": "round(datum.value*100) % 30 == 0 ? format(datum.value, '.1f') : ''", "titleFont": "Liberation Sans", "titleFontSize": 15}},
  "color": {"field": "s", "type": "nominal", "scale": {"domain": ["S1","S2","S3"], "range": ["#000000","#ff0000","#0000ff"]}, "legend": {"title": null, "encode": {"symbols": {"update": {"shape": {"signal": "datum.value == 'S1' ? 'M-2,0H2M-0.32,-0.32H0.32V0.32H-0.32Z' : datum.value == 'S2' ? 'M-2,0H2M-0.34,0A0.34,0.34 0 1,0 0.34,0A0.34,0.34 0 1,0 -0.34,0Z' : 'M-2,0H2M0,-0.4L0.38,0.28H-0.38Z'"}, "fill": {"signal": "datum.value == 'S1' ? '#000000' : datum.value == 'S2' ? '#ff0000' : '#0000ff'"}, "opacity": {"value": 1}}}}}}
 },
 "layer": [
  {"mark": {"type": "line", "strokeWidth": 1.5}, "encoding": {}},
  {"transform": [{"filter": "datum.s == 'S1'"}], "mark": {"type": "point", "shape": "square", "filled": true, "size": 12, "opacity": 1}, "encoding": {}},
  {"transform": [{"filter": "datum.s == 'S2'"}], "mark": {"type": "point", "shape": "circle", "filled": true, "size": 14, "opacity": 1}, "encoding": {}},
  {"transform": [{"filter": "datum.s == 'S3'"}], "mark": {"type": "point", "shape": "triangle-up", "filled": true, "size": 16, "opacity": 1}, "encoding": {}}
 ]}
], "spacing": 11, "resolve": {"scale": {"color": "independent"}, "legend": {"color": "independent"}}}
], "spacing": -7, "resolve": {"scale": {"color": "independent"}, "legend": {"color": "independent"}}},
{"hconcat": [
{"title": {"text": "d", "dx": -8}, "width": 278, "height": 205,
 "transform": [{"filter": "datum.p == 'd'"}],
 "encoding": {
  "x": {"field": "f", "type": "quantitative", "scale": {"domain": [2, 18], "nice": false, "zero": false}, "axis": {"title": "Frequency (GHz)", "values": [2,3,4,5,6,7,8,9,10,11,12,13,14,15,16,17,18], "labelExpr": "datum.value % 2 == 0 ? datum.label : ''"}},
  "y": {"field": "v", "type": "quantitative", "scale": {"domain": [0.8, 1.9], "nice": false, "zero": false}, "axis": {"title": "Real permeability u'", "values": [0.8,0.9,1.0,1.1,1.2,1.3,1.4,1.5,1.6,1.7,1.8], "labelExpr": "round(datum.value*10) % 2 == 0 ? format(datum.value, '.1f') : ''", "titleFont": "Liberation Serif", "titleFontSize": 17}},
  "color": {"field": "s", "type": "nominal", "scale": {"domain": ["S1","S2","S3"], "range": ["#000000","#ff0000","#0000ff"]}, "legend": {"title": null, "encode": {"symbols": {"update": {"shape": {"signal": "datum.value == 'S1' ? 'M-2,0H2M-0.32,-0.32H0.32V0.32H-0.32Z' : datum.value == 'S2' ? 'M-2,0H2M-0.34,0A0.34,0.34 0 1,0 0.34,0A0.34,0.34 0 1,0 -0.34,0Z' : 'M-2,0H2M0,-0.4L0.38,0.28H-0.38Z'"}, "fill": {"signal": "datum.value == 'S1' ? '#000000' : datum.value == 'S2' ? '#ff0000' : '#0000ff'"}, "opacity": {"value": 1}}}}}}
 },
 "layer": [
  {"mark": {"type": "line", "strokeWidth": 1.5}, "encoding": {}},
  {"transform": [{"filter": "datum.s == 'S1'"}], "mark": {"type": "point", "shape": "square", "filled": true, "size": 12, "opacity": 1}, "encoding": {}},
  {"transform": [{"filter": "datum.s == 'S2'"}], "mark": {"type": "point", "shape": "circle", "filled": true, "size": 14, "opacity": 1}, "encoding": {}},
  {"transform": [{"filter": "datum.s == 'S3'"}], "mark": {"type": "point", "shape": "triangle-up", "filled": true, "size": 16, "opacity": 1}, "encoding": {}}
 ]},
{"hconcat": [
{"title": {"text": "e", "dx": -20}, "width": 276, "height": 205,
 "transform": [{"filter": "datum.p == 'e'"}],
 "encoding": {
  "x": {"field": "f", "type": "quantitative", "scale": {"domain": [2, 18], "nice": false, "zero": false}, "axis": {"title": "Frequency (GHz)", "values": [2,3,4,5,6,7,8,9,10,11,12,13,14,15,16,17,18], "labelExpr": "datum.value % 2 == 0 ? datum.label : ''"}},
  "y": {"field": "v", "type": "quantitative", "scale": {"domain": [-0.3, 1.9], "nice": false, "zero": false}, "axis": {"title": "Imaginary permeability u''", "values": [-0.3,-0.15,0,0.15,0.3,0.45,0.6,0.75,0.9,1.05,1.2,1.35,1.5,1.65,1.8], "labelExpr": "round(datum.value*100) % 30 == 0 ? format(datum.value, '.1f') : ''", "titleFont": "Liberation Serif", "titleFontSize": 17}},
  "color": {"field": "s", "type": "nominal", "scale": {"domain": ["S1","S2","S3"], "range": ["#000000","#ff0000","#0000ff"]}, "legend": {"title": null, "encode": {"symbols": {"update": {"shape": {"signal": "datum.value == 'S1' ? 'M-2,0H2M-0.32,-0.32H0.32V0.32H-0.32Z' : datum.value == 'S2' ? 'M-2,0H2M-0.34,0A0.34,0.34 0 1,0 0.34,0A0.34,0.34 0 1,0 -0.34,0Z' : 'M-2,0H2M0,-0.4L0.38,0.28H-0.38Z'"}, "fill": {"signal": "datum.value == 'S1' ? '#000000' : datum.value == 'S2' ? '#ff0000' : '#0000ff'"}, "opacity": {"value": 1}}}}}}
 },
 "layer": [
  {"mark": {"type": "line", "strokeWidth": 1.5}, "encoding": {}},
  {"transform": [{"filter": "datum.s == 'S1'"}], "mark": {"type": "point", "shape": "square", "filled": true, "size": 12, "opacity": 1}, "encoding": {}},
  {"transform": [{"filter": "datum.s == 'S2'"}], "mark": {"type": "point", "shape": "circle", "filled": true, "size": 14, "opacity": 1}, "encoding": {}},
  {"transform": [{"filter": "datum.s == 'S3'"}], "mark": {"type": "point", "shape": "triangle-up", "filled": true, "size": 16, "opacity": 1}, "encoding": {}}
 ]},
{"title": {"text": "f", "dx": 0}, "width": 270, "height": 197,
 "transform": [{"filter": "datum.p == 'f'"}],
 "encoding": {
  "x": {"field": "f", "type": "quantitative", "scale": {"domain": [2, 18], "nice": false, "zero": false}, "axis": {"title": "Frequency (GHz)", "values": [2,3,4,5,6,7,8,9,10,11,12,13,14,15,16,17,18], "labelExpr": "datum.value % 2 == 0 ? datum.label : ''"}},
  "y": {"field": "v", "type": "quantitative", "scale": {"domain": [-0.3, 1.9], "nice": false, "zero": false}, "axis": {"title": "Magnetic Loss tanμ", "values": [-0.3,-0.15,0,0.15,0.3,0.45,0.6,0.75,0.9,1.05,1.2,1.35,1.5,1.65,1.8], "labelExpr": "round(datum.value*100) % 30 == 0 ? format(datum.value, '.1f') : ''", "titleFont": "Liberation Sans", "titleFontSize": 16}},
  "color": {"field": "s", "type": "nominal", "scale": {"domain": ["S1","S2","S3"], "range": ["#000000","#ff0000","#0000ff"]}, "legend": {"title": null, "encode": {"symbols": {"update": {"shape": {"signal": "datum.value == 'S1' ? 'M-2,0H2M-0.32,-0.32H0.32V0.32H-0.32Z' : datum.value == 'S2' ? 'M-2,0H2M-0.34,0A0.34,0.34 0 1,0 0.34,0A0.34,0.34 0 1,0 -0.34,0Z' : 'M-2,0H2M0,-0.4L0.38,0.28H-0.38Z'"}, "fill": {"signal": "datum.value == 'S1' ? '#000000' : datum.value == 'S2' ? '#ff0000' : '#0000ff'"}, "opacity": {"value": 1}}}}}}
 },
 "layer": [
  {"mark": {"type": "line", "strokeWidth": 1.5}, "encoding": {}},
  {"transform": [{"filter": "datum.s == 'S1'"}], "mark": {"type": "point", "shape": "square", "filled": true, "size": 12, "opacity": 1}, "encoding": {}},
  {"transform": [{"filter": "datum.s == 'S2'"}], "mark": {"type": "point", "shape": "circle", "filled": true, "size": 14, "opacity": 1}, "encoding": {}},
  {"transform": [{"filter": "datum.s == 'S3'"}], "mark": {"type": "point", "shape": "triangle-up", "filled": true, "size": 16, "opacity": 1}, "encoding": {}}
 ]}
], "spacing": 2, "resolve": {"scale": {"color": "independent"}, "legend": {"color": "independent"}}}
], "spacing": -7, "resolve": {"scale": {"color": "independent"}, "legend": {"color": "independent"}}}
],
"config": {
 "font": "Liberation Sans",
 "view": {"stroke": "#000000", "strokeWidth": 2},
 "axis": {"grid": false, "domainColor": "#000000", "domainWidth": 2, "tickColor": "#000000", "tickWidth": 1.5, "tickSize": -5, "labelColor": "#000000", "labelFont": "Liberation Sans", "labelFontSize": 17, "labelPadding": 4, "titleColor": "#000000", "titleFont": "Liberation Serif", "titleFontWeight": "bold", "titleFontSize": 16, "titlePadding": 3, "labelOverlap": false, "labelFlush": false},
 "axisX": {"titlePadding": 3, "titleFontSize": 17},
 "axisY": {"labelPadding": 8},
 "legend": {"orient": "top-right", "offset": 6, "padding": 0, "labelFont": "Liberation Sans", "labelFontSize": 14, "labelColor": "#000000", "symbolSize": 156, "symbolStrokeWidth": 1.8, "labelOffset": 9, "rowPadding": 2, "symbolOffset": 6},
 "title": {"anchor": "start", "frame": "bounds", "fontSize": 31, "font": "Liberation Sans", "fontWeight": "normal", "color": "#000000", "offset": -23, "dx": -8}
}
}
